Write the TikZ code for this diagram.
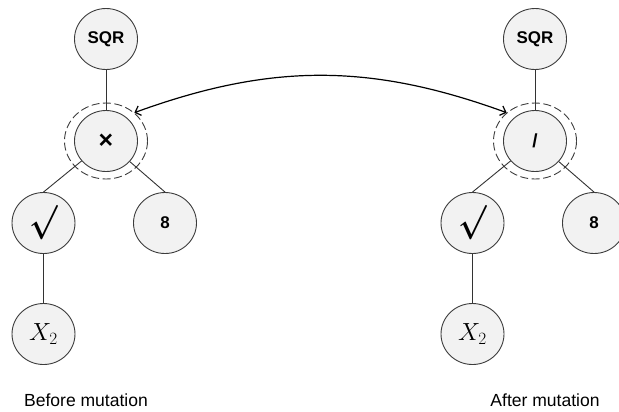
\documentclass[tikz,border=0pt]{standalone}
\usepackage{fontspec}
\usepackage{amsmath,bm}
\setmainfont{Liberation Sans}
\usetikzlibrary{shapes.geometric,arrows.meta}
\definecolor{nodefill}{RGB}{242,242,242}
\definecolor{nodeline}{RGB}{60,60,60}
\tikzset{
  treenode/.style={ellipse, draw=nodeline, line width=0.9bp, fill=nodefill,
    minimum width=63bp, minimum height=61bp, inner sep=0pt,
    font=\fontsize{17}{17}\selectfont\bfseries},
  ring/.style={ellipse, draw=nodeline, dashed, dash pattern=on 8bp off 3.5bp,
    line width=0.9bp, minimum width=83bp, minimum height=76bp, inner sep=0pt},
  edge/.style={draw=black!80, line width=0.9bp},
  caption/.style={anchor=base, inner sep=0pt, font=\fontsize{17.6}{17.6}\selectfont}
}
\newcommand{\radsym}{\scalebox{1.7}[2.0]{$\bm{\surd}$}}
\begin{document}
\begin{tikzpicture}[x=1bp,y=-1bp]
  \useasboundingbox (0,0) rectangle (619,411);
  % tree before the mutation
  \node[ring] (ringL) at (106,141) {};
  \node[treenode] (sqrL) at (106,39) {SQR};
  \node[treenode] (mulL) at (106,141) {\fontsize{25}{25}\selectfont ×};
  \node[treenode] (sqtL) at (43.5,223) {\radsym};
  \node[treenode] (eightL) at (165,223) {8};
  \node[treenode, font=\fontsize{23}{23}\selectfont] (xL) at (43.5,334) {$X_2$};
  \node[caption] (capL) at (86,406) {Before mutation};
  \draw[edge] (sqrL) -- (mulL);
  \draw[edge] (mulL) -- (sqtL.north);
  \draw[edge] (mulL) -- (eightL.north);
  \draw[edge] (sqtL) -- (xL);
  % tree after the mutation
  \node[ring] (ringR) at (535,141) {};
  \node[treenode] (sqrR) at (535,39) {SQR};
  \node[treenode] (divR) at (535,141) {\fontsize{19}{19}\selectfont /};
  \node[treenode] (sqtR) at (472.5,223) {\radsym};
  \node[treenode] (eightR) at (594,223) {8};
  \node[treenode, font=\fontsize{23}{23}\selectfont] (xR) at (472.5,334) {$X_2$};
  \node[caption] (capR) at (545,406) {After mutation};
  \draw[edge] (sqrR) -- (divR);
  \draw[edge] (divR) -- (sqtR.north);
  \draw[edge] (divR) -- (eightR.north);
  \draw[edge] (sqtR) -- (xR);
  % swapped operator
  \draw[line width=1.2bp, {Straight Barb[length=5bp,width=10bp]}-{Straight Barb[length=5bp,width=10bp]}]
    (ringL.45) to[bend left=20] (ringR.135);
\end{tikzpicture}
\end{document}
